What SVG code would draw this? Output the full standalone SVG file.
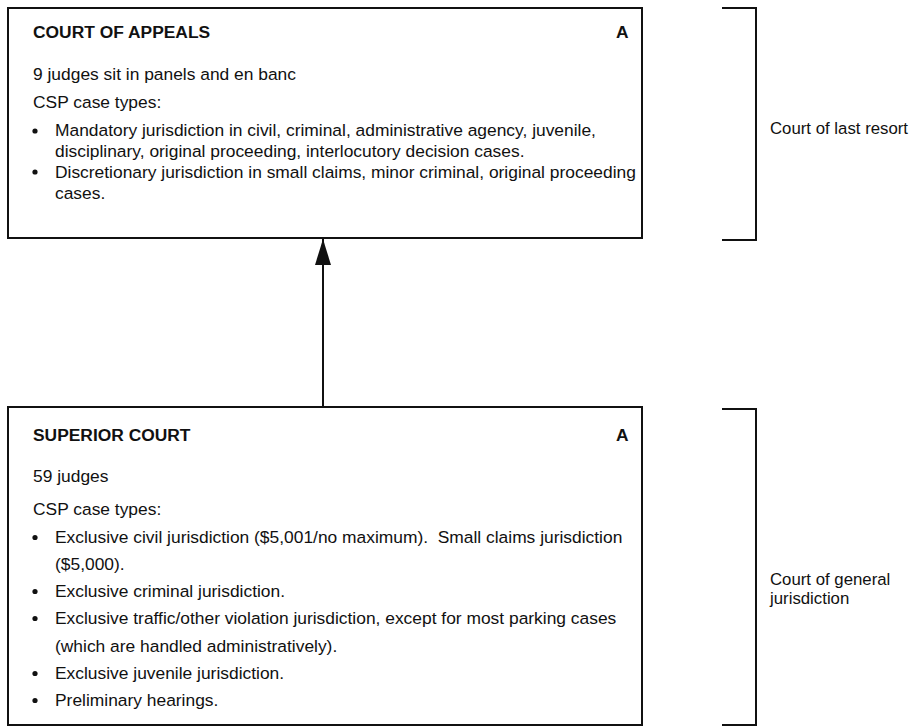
<svg xmlns="http://www.w3.org/2000/svg" width="918" height="727" viewBox="0 0 918 727">
<style>
text{font-family:"Liberation Sans",Arial,sans-serif;font-size:17.4px;fill:#111}
.h{font-weight:bold}
.pre{white-space:pre}
.box{fill:#fff;stroke:#111;stroke-width:2}
.br{fill:none;stroke:#111;stroke-width:2}
.lbl{font-size:16.8px}
.conn{stroke:#111;stroke-width:2;fill:none}
</style>
<defs>
<marker id="ah" viewBox="0 0 26 16" refX="26" refY="8" markerWidth="26" markerHeight="16" markerUnits="userSpaceOnUse" orient="auto">
<path d="M26 8 L0 0 L0 16 Z" fill="#111"/>
</marker>
</defs>
<rect width="918" height="727" fill="#fff"/>
<g id="court-of-appeals">
<rect class="box" x="8" y="8" width="634" height="230"/>
<text class="h" x="33" y="38">COURT OF APPEALS</text>
<text class="h" x="616" y="38">A</text>
<text x="33" y="80">9 judges sit in panels and en banc</text>
<text x="33" y="108">CSP case types:</text>
<circle cx="35" cy="131" r="2.6" fill="#111"/>
<text x="55" y="136">Mandatory jurisdiction in civil, criminal, administrative agency, juvenile,</text>
<text x="55" y="156.5">disciplinary, original proceeding, interlocutory decision cases.</text>
<circle cx="35" cy="172" r="2.6" fill="#111"/>
<text x="55" y="177.5">Discretionary jurisdiction in small claims, minor criminal, original proceeding</text>
<text x="55" y="198.5">cases.</text>
</g>
<g id="superior-court">
<rect class="box" x="8" y="407" width="634" height="318"/>
<text class="h" x="33" y="441">SUPERIOR COURT</text>
<text class="h" x="616" y="441">A</text>
<text x="33" y="482">59 judges</text>
<text x="33" y="515">CSP case types:</text>
<circle cx="35" cy="537.5" r="2.6" fill="#111"/>
<text class="pre" x="55" y="543">Exclusive civil jurisdiction ($5,001/no maximum).  Small claims jurisdiction</text>
<text x="55" y="570">($5,000).</text>
<circle cx="35" cy="591.5" r="2.6" fill="#111"/>
<text x="55" y="597">Exclusive criminal jurisdiction.</text>
<circle cx="35" cy="618.5" r="2.6" fill="#111"/>
<text x="55" y="624">Exclusive traffic/other violation jurisdiction, except for most parking cases</text>
<text x="55" y="652">(which are handled administratively).</text>
<circle cx="35" cy="673.5" r="2.6" fill="#111"/>
<text x="55" y="679">Exclusive juvenile jurisdiction.</text>
<circle cx="35" cy="700.5" r="2.6" fill="#111"/>
<text x="55" y="706">Preliminary hearings.</text>
</g>
<g id="label-last-resort">
<path class="br" d="M722 8 H756 V240 H722"/>
<text class="lbl" x="770" y="134">Court of last resort</text>
</g>
<g id="label-general">
<path class="br" d="M722 409 H756 V725 H722"/>
<text class="lbl" x="770" y="585">Court of general</text>
<text class="lbl" x="770" y="604">jurisdiction</text>
</g>
<g id="connectors">
<line class="conn" x1="323" y1="407" x2="323" y2="239" marker-end="url(#ah)"/>
</g>
</svg>
